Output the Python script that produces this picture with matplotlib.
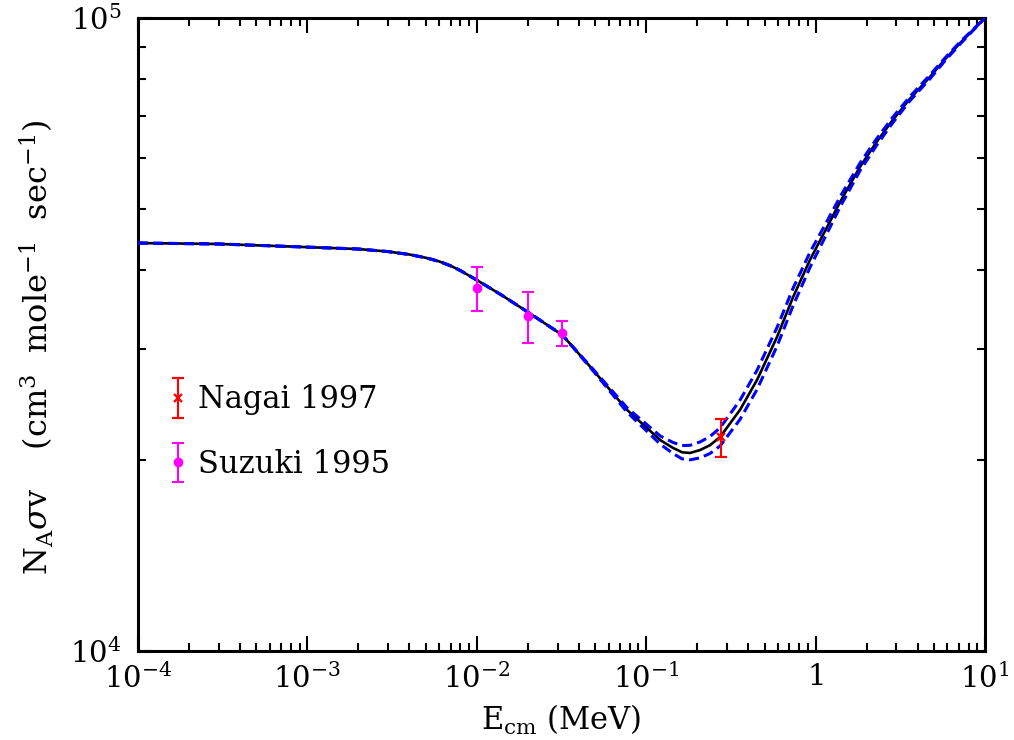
import matplotlib
matplotlib.use('Agg')
import matplotlib.pyplot as plt
from matplotlib.ticker import LogLocator, NullFormatter
from matplotlib.legend_handler import HandlerErrorbar

# ---- data ----
energy = [1e-4, 3e-4, 1e-3, 2e-3, 3e-3, 4e-3, 5e-3, 6e-3, 7e-3, 8e-3, 1e-2,
          1.4e-2, 2e-2, 3.2e-2, 4.85e-2, 7.7e-2,
          0.121, 0.144, 0.163, 0.1815, 0.208, 0.238, 0.273, 0.358, 0.451,
          0.592, 0.736, 0.927, 1.17, 1.4, 1.83, 2.3, 2.86, 3.6, 4.73, 5.8, 7.1, 10.0]
rate = [44100, 43950, 43450, 43150, 42750, 42300, 41800, 41250, 40600, 39900, 38540,
        36500, 34310, 31560, 27800, 24040,
        21540, 20930, 20600, 20550, 20770, 21140, 21780, 24040, 26800,
        31340, 36220, 41500, 46760, 51300, 58200, 63800, 69050, 74500, 80700, 86000, 91200, 100000]
rate_upper = [44100, 43950, 43450, 43150, 42750, 42300, 41800, 41250, 40600, 39900, 38540,
              36500, 34310, 31560, 27880, 24230,
              21860, 21350, 21110, 21130, 21390, 21820, 22520, 24900, 27760,
              32440, 37410, 42660, 47790, 52260, 59010, 64530, 69740, 75120, 81260, 86430, 91560, 100000]
rate_lower = [44100, 43950, 43450, 43150, 42750, 42300, 41800, 41250, 40600, 39900, 38540,
              36500, 34310, 31560, 27720, 23850,
              21220, 20510, 20110, 20040, 20190, 20510, 21080, 23220, 25890,
              30310, 35100, 40380, 45730, 50380, 57390, 63020, 68360, 73960, 80140, 85570, 90840, 100000]

suzuki_E = [0.010, 0.020, 0.032]
suzuki_rate = [37500, 33820, 31840]
suzuki_hi = [40360, 36950, 33260]
suzuki_lo = [34480, 30690, 30340]

nagai_E = [0.275]
nagai_rate = [21810]
nagai_hi = [23220]
nagai_lo = [20280]

xticks = [1e-4, 1e-3, 1e-2, 1e-1, 1, 10]
xticklabels = [r'$10^{-4}$', r'$10^{-3}$', r'$10^{-2}$', r'$10^{-1}$', r'$1$', r'$10^{1}$']
yticks = [1e4, 1e5]
yticklabels = [r'$10^{4}$', r'$10^{5}$']

# ---- style ----
plt.rcParams['font.family'] = ['DejaVu Serif']
plt.rcParams['mathtext.fontset'] = 'dejavuserif'

fig = plt.figure(figsize=(10.14, 7.4), dpi=100)
ax = fig.add_axes([0.1361, 0.1203, 0.8353, 0.8554])

ax.plot(energy, rate, color='black', lw=1.9, zorder=2)
ax.plot(energy, rate_upper, color='#0000ff', lw=2.2, ls=(0, (3.3, 1.7)), zorder=3)
ax.plot(energy, rate_lower, color='#0000ff', lw=2.2, ls=(0, (3.3, 1.7)), zorder=3)

n_err = [[r - l for r, l in zip(nagai_rate, nagai_lo)],
         [h - r for r, h in zip(nagai_rate, nagai_hi)]]
s_err = [[r - l for r, l in zip(suzuki_rate, suzuki_lo)],
         [h - r for r, h in zip(suzuki_rate, suzuki_hi)]]

h1 = ax.errorbar(nagai_E, nagai_rate, yerr=n_err, fmt='x', color='#ff0000',
                 ms=6, mew=1.6, elinewidth=1.5, capsize=4.5, capthick=1.5,
                 zorder=4, label='Nagai 1997')
h2 = ax.errorbar(suzuki_E, suzuki_rate, yerr=s_err, fmt='o', color='#ff00ff',
                 ms=6, elinewidth=1.5, capsize=4.5, capthick=1.5,
                 zorder=4, label='Suzuki 1995')

ax.set_xscale('log')
ax.set_yscale('log')
ax.set_xlim(1e-4, 10)
ax.set_ylim(1e4, 1e5)
ax.set_xticks(xticks, xticklabels)
ax.set_yticks(yticks, yticklabels)
ax.xaxis.set_minor_locator(LogLocator(base=10, subs=range(2, 10), numticks=30))
ax.yaxis.set_minor_locator(LogLocator(base=10, subs=range(2, 10), numticks=30))
ax.xaxis.set_minor_formatter(NullFormatter())
ax.yaxis.set_minor_formatter(NullFormatter())

ax.tick_params(which='both', direction='in', top=True, right=True, width=1.5)
ax.tick_params(which='major', length=11, labelsize=21)
ax.tick_params(axis='x', which='major', pad=9)
ax.tick_params(axis='y', which='major', pad=12)
ax.tick_params(which='minor', length=6)
for s in ax.spines.values():
    s.set_linewidth(2.2)

ax.set_xlabel(r'$\mathregular{E_{cm}}$ (MeV)', fontsize=22, labelpad=6)
ax.set_ylabel(r'$\mathregular{N_A}\sigma\mathregular{v}$    (cm$^{3}$  mole$^{-1}$  sec$^{-1}$)',
              fontsize=23)
ax.yaxis.set_label_coords(-0.097, 0.48)

leg = ax.legend(handles=[h1, h2], loc='upper left', bbox_to_anchor=(0.036, 0.421),
                frameon=False, fontsize=22, handlelength=0.6, handletextpad=0.35,
                labelspacing=1.1, borderpad=0, borderaxespad=0,
                handler_map={type(h1): HandlerErrorbar(xerr_size=0.65)})

fig.savefig('out.png', dpi=100)
